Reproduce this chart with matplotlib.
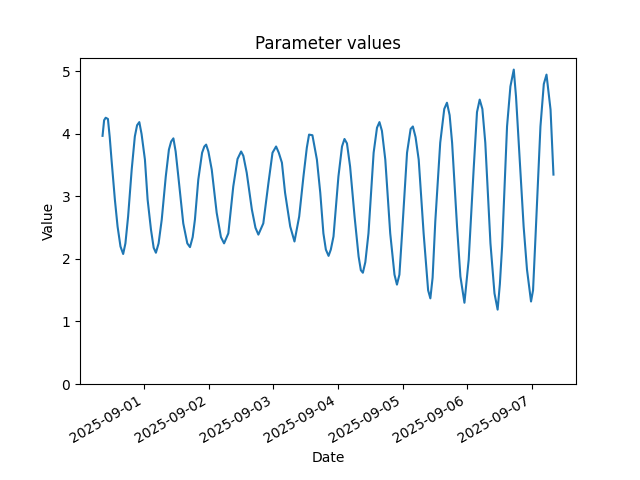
import pandas as pd
import matplotlib
matplotlib.use("Agg")
import matplotlib.pyplot as plt

# readings taken off the reference plot
times = [
    "2025-08-31 08:30", "2025-08-31 09:05", "2025-08-31 09:40", "2025-08-31 10:30",
    "2025-08-31 11:10", "2025-08-31 11:50", "2025-08-31 13:05", "2025-08-31 14:05",
    "2025-08-31 15:10", "2025-08-31 16:10", "2025-08-31 17:00", "2025-08-31 18:00",
    "2025-08-31 19:20", "2025-08-31 20:30", "2025-08-31 21:20", "2025-08-31 22:10",
    "2025-08-31 23:00", "2025-09-01 00:15", "2025-09-01 01:15", "2025-09-01 02:30",
    "2025-09-01 03:30", "2025-09-01 04:20", "2025-09-01 05:20", "2025-09-01 06:30",
    "2025-09-01 08:00", "2025-09-01 09:10", "2025-09-01 10:00", "2025-09-01 10:50",
    "2025-09-01 11:40", "2025-09-01 12:40", "2025-09-01 14:30", "2025-09-01 16:00",
    "2025-09-01 17:00", "2025-09-01 18:00", "2025-09-01 18:50", "2025-09-01 20:05",
    "2025-09-01 21:30", "2025-09-01 22:20", "2025-09-01 23:00", "2025-09-01 23:50",
    "2025-09-02 01:05", "2025-09-02 02:55", "2025-09-02 04:30", "2025-09-02 05:40",
    "2025-09-02 07:15", "2025-09-02 09:05", "2025-09-02 10:40", "2025-09-02 12:00",
    "2025-09-02 12:50", "2025-09-02 14:05", "2025-09-02 16:00", "2025-09-02 17:20",
    "2025-09-02 18:25", "2025-09-02 20:15", "2025-09-02 22:10", "2025-09-02 23:40",
    "2025-09-03 01:00", "2025-09-03 02:00", "2025-09-03 03:10", "2025-09-03 04:20",
    "2025-09-03 06:15", "2025-09-03 07:50", "2025-09-03 09:35", "2025-09-03 11:10",
    "2025-09-03 12:25", "2025-09-03 13:15", "2025-09-03 14:30", "2025-09-03 16:10",
    "2025-09-03 17:25", "2025-09-03 18:35", "2025-09-03 19:30", "2025-09-03 20:30",
    "2025-09-03 21:20", "2025-09-03 22:20", "2025-09-04 00:10", "2025-09-04 01:30",
    "2025-09-04 02:25", "2025-09-04 03:20", "2025-09-04 04:30", "2025-09-04 06:10",
    "2025-09-04 07:40", "2025-09-04 08:30", "2025-09-04 09:15", "2025-09-04 10:10",
    "2025-09-04 11:20", "2025-09-04 13:15", "2025-09-04 14:30", "2025-09-04 15:25",
    "2025-09-04 16:20", "2025-09-04 17:35", "2025-09-04 19:25", "2025-09-04 21:00",
    "2025-09-04 21:55", "2025-09-04 22:50", "2025-09-04 23:45", "2025-09-05 01:40",
    "2025-09-05 03:00", "2025-09-05 03:50", "2025-09-05 04:50", "2025-09-05 06:00",
    "2025-09-05 07:50", "2025-09-05 08:30", "2025-09-05 09:30", "2025-09-05 10:20",
    "2025-09-05 11:10", "2025-09-05 12:10", "2025-09-05 14:00", "2025-09-05 15:30",
    "2025-09-05 16:30", "2025-09-05 17:30", "2025-09-05 18:25", "2025-09-05 20:15",
    "2025-09-05 21:30", "2025-09-05 23:00", "2025-09-06 00:35", "2025-09-06 02:25",
    "2025-09-06 03:40", "2025-09-06 04:40", "2025-09-06 05:40", "2025-09-06 06:45",
    "2025-09-06 08:40", "2025-09-06 10:10", "2025-09-06 11:20", "2025-09-06 12:10",
    "2025-09-06 13:00", "2025-09-06 14:50", "2025-09-06 16:05", "2025-09-06 17:20",
    "2025-09-06 18:10", "2025-09-06 19:10", "2025-09-06 21:00", "2025-09-06 22:15",
    "2025-09-06 23:45", "2025-09-07 00:30", "2025-09-07 01:25", "2025-09-07 03:15",
    "2025-09-07 04:30", "2025-09-07 05:30", "2025-09-07 07:00", "2025-09-07 08:05",
]
values = [
    3.97, 4.22, 4.26, 4.24,
    3.95, 3.59, 2.95, 2.52,
    2.20, 2.08, 2.25, 2.68,
    3.43, 3.96, 4.14, 4.19,
    4.00, 3.59, 2.95, 2.47,
    2.18, 2.10, 2.25, 2.63,
    3.32, 3.75, 3.88, 3.93,
    3.72, 3.32, 2.57, 2.25,
    2.19, 2.35, 2.63, 3.27,
    3.70, 3.80, 3.83, 3.72,
    3.43, 2.74, 2.35, 2.25,
    2.41, 3.16, 3.60, 3.72,
    3.65, 3.38, 2.79, 2.50,
    2.39, 2.57, 3.22, 3.70,
    3.80, 3.70, 3.54, 3.06,
    2.52, 2.28, 2.68, 3.32,
    3.78, 3.99, 3.98, 3.59,
    3.06, 2.41, 2.15, 2.05,
    2.15, 2.36, 3.32, 3.80,
    3.92, 3.85, 3.48, 2.68,
    2.04, 1.82, 1.78, 1.95,
    2.41, 3.70, 4.10, 4.19,
    4.05, 3.59, 2.41, 1.75,
    1.59, 1.75, 2.36, 3.70,
    4.08, 4.12, 3.95, 3.59,
    2.41, 2.04, 1.50, 1.37,
    1.70, 2.60, 3.86, 4.40,
    4.50, 4.30, 3.86, 2.52,
    1.72, 1.30, 1.99, 3.43,
    4.35, 4.55, 4.40, 3.86,
    2.25, 1.45, 1.19, 1.60,
    2.20, 4.12, 4.76, 5.03,
    4.60, 3.86, 2.52, 1.83,
    1.32, 1.50, 2.36, 4.12,
    4.80, 4.95, 4.39, 3.35,
]

dates = pd.to_datetime(times)

fig, ax = plt.subplots(figsize=(6.4, 4.8), dpi=100)
ax.plot(dates, values)
ax.set_ylim(bottom=0)
ax.set_title("Parameter values")
ax.set_xlabel("Date")
ax.set_ylabel("Value")
fig.autofmt_xdate()
fig.savefig("out.png")
